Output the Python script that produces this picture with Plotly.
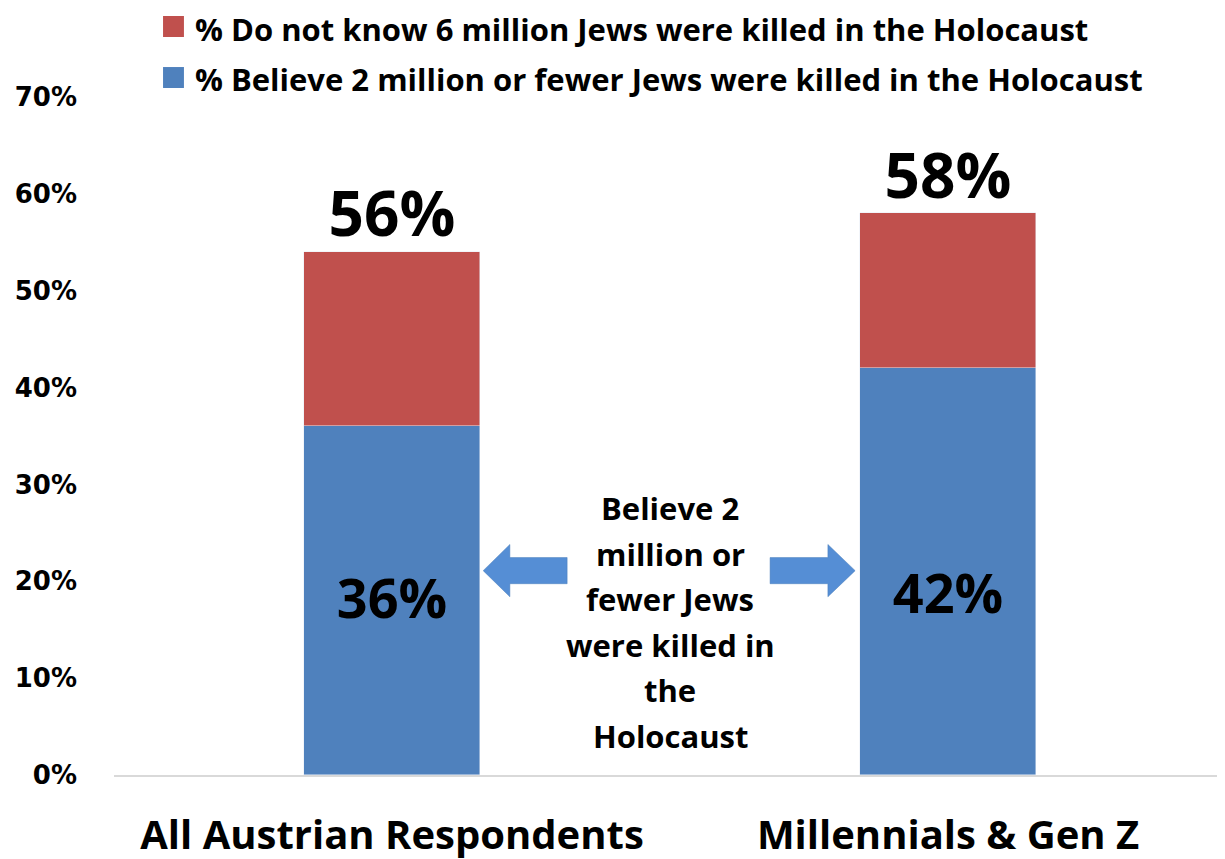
import plotly.graph_objects as go

categories = ["All Austrian Respondents", "Millennials & Gen Z"]
series_names = ["% Believe 2 million or fewer Jews were killed in the Holocaust",
                "% Do not know 6 million Jews were killed in the Holocaust"]
believe_2m = [36, 42]
do_not_know = [18, 16]
total_labels = ["56%", "58%"]
inner_labels = ["36%", "42%"]
inner_label_y = [17.6, 18.1]
y_ticks = [0, 10, 20, 30, 40, 50, 60, 70]
y_tick_text = [f"{v}%" for v in y_ticks]
center_lines = ["Believe 2", "million or", "fewer Jews", "were killed in", "the", "Holocaust"]
center_line_y = [27.57, 22.86, 18.15, 13.44, 8.73, 4.02]

BLUE = "#4F81BD"
RED = "#C0504D"
ARROW = "#558ED5"
FONT = "Open Sans"

fig = go.Figure()
fig.add_trace(go.Bar(
    x=categories, y=believe_2m, name=series_names[0],
    marker=dict(color=BLUE), width=0.315, showlegend=False,
))
fig.add_trace(go.Bar(
    x=categories, y=do_not_know, name=series_names[1],
    marker=dict(color=RED), width=0.315, showlegend=False,
))
totals = [a + b for a, b in zip(believe_2m, do_not_know)]
fig.add_trace(go.Scatter(
    x=categories, y=totals, mode="text", text=total_labels, textposition="top center",
    textfont=dict(family=FONT, size=62, color="black", weight="bold"),
    showlegend=False, hoverinfo="skip", cliponaxis=False,
))
fig.add_trace(go.Scatter(
    x=categories, y=inner_label_y, mode="text", text=inner_labels, textposition="middle center",
    textfont=dict(family=FONT, size=54, color="black", weight="bold"),
    showlegend=False, hoverinfo="skip", cliponaxis=False,
))

# legend (drawn manually so it can sit above the plot area, as in the original)
legend_rows = [  # (name, colour, square y0, square y1, text y)
    (series_names[1], RED, 1.0885, 1.1195, 1.1010),
    (series_names[0], BLUE, 1.0133, 1.0442, 1.0260),
]
for name, color, sy0, sy1, ty in legend_rows:
    fig.add_shape(type="rect", xref="paper", yref="paper", x0=0.0441, x1=0.0629,
                  y0=sy0, y1=sy1, fillcolor=color, line=dict(width=0))
    fig.add_annotation(x=0.0710, y=ty, xref="paper", yref="paper", text=name,
                       showarrow=False, xanchor="left", yanchor="middle",
                       font=dict(family=FONT, size=31, color="black", weight="bold"))

# block arrows
def block_arrow(x_tail, x_base, x_tip, yc, shaft_h, head_h):
    return (f"M {x_tail} {yc - shaft_h} L {x_base} {yc - shaft_h} L {x_base} {yc - head_h} "
            f"L {x_tip} {yc} L {x_base} {yc + head_h} L {x_base} {yc + shaft_h} L {x_tail} {yc + shaft_h} Z")

yc = 21.1
fig.add_shape(type="path", xref="x", yref="y",
              path=block_arrow(0.315, 0.212, 0.164, yc, 1.35, 2.7),
              fillcolor=ARROW, line=dict(color="#4A7EBB", width=0.5))
fig.add_shape(type="path", xref="x", yref="y",
              path=block_arrow(0.680, 0.784, 0.833, yc, 1.35, 2.7),
              fillcolor=ARROW, line=dict(color="#4A7EBB", width=0.5))

for line, ly in zip(center_lines, center_line_y):
    fig.add_annotation(x=0.5, y=ly, xref="x", yref="y", text=line, showarrow=False,
                       font=dict(family=FONT, size=31, color="black", weight="bold"),
                       align="center", yanchor="middle")

fig.update_layout(
    width=1225, height=859,
    margin=dict(l=106, r=7, t=89, b=92),
    barmode="stack",
    plot_bgcolor="white", paper_bgcolor="white",
    bargap=0,
    showlegend=False,
)
fig.update_xaxes(
    range=[-0.5, 1.5], showline=True, linecolor="#D9D9D9", linewidth=1.5,
    ticks="", showgrid=False, automargin=False,
    tickfont=dict(family=FONT, size=40, color="black", weight="bold"),
    ticklabelstandoff=24,
)
fig.update_yaxes(
    range=[0, 70], tickvals=y_ticks, ticktext=y_tick_text, showgrid=False,
    zeroline=False, showline=False, ticks="", automargin=False,
    tickfont=dict(family="DejaVu Sans", size=26, color="black", weight="bold"),
    ticklabelstandoff=36,
)

fig.write_html("out.html")
